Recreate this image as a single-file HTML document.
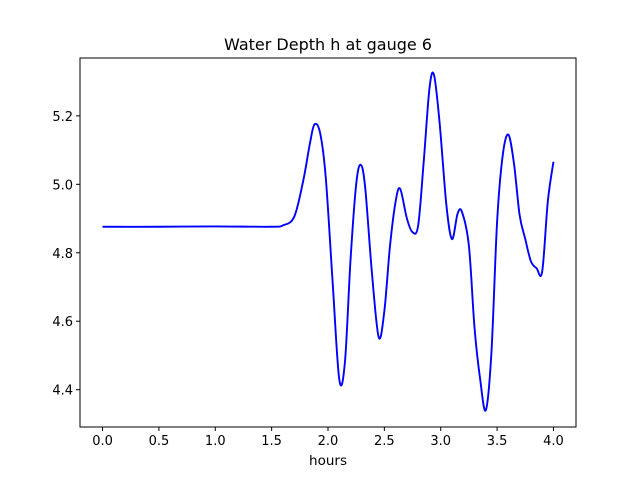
<!DOCTYPE html>
<html><head><meta charset="utf-8"><style>
body{margin:0;background:#fff;}
svg text{font-family:"DejaVu Sans","Liberation Sans",sans-serif;}
</style></head><body>
<svg id="chart" width="640" height="480" xmlns="http://www.w3.org/2000/svg">
<rect width="640" height="480" fill="#fff"/>
<text x="328" y="50" font-size="16" text-anchor="middle">Water Depth h at gauge 6</text>
<g id="plot"></g>
<rect x="80" y="58" width="496" height="369" fill="none" stroke="#000" stroke-width="1"/>
<g id="xt"></g><g id="yt"></g>
<text x="328" y="465" font-size="13.5" text-anchor="middle">hours</text>
</svg>
<script>
const hours=[0,0.5,1.0,1.5,1.6,1.7,1.78,1.84,1.88,1.93,1.98,2.04,2.1,2.15,2.2,2.25,2.29,2.33,2.39,2.45,2.5,2.55,2.6,2.64,2.7,2.75,2.8,2.85,2.9,2.94,2.99,3.05,3.1,3.15,3.19,3.25,3.3,3.35,3.4,3.45,3.5,3.55,3.6,3.65,3.7,3.75,3.8,3.85,3.9,3.95,4.0];
const depth=[4.876,4.876,4.877,4.876,4.88,4.905,5.01,5.12,5.175,5.15,5.02,4.72,4.43,4.48,4.78,5.0,5.057,4.99,4.74,4.553,4.63,4.82,4.95,4.987,4.9,4.86,4.88,5.07,5.28,5.32,5.18,4.94,4.84,4.915,4.918,4.82,4.58,4.43,4.34,4.51,4.89,5.085,5.145,5.06,4.91,4.84,4.775,4.755,4.745,4.95,5.066];
const xTicks=[0,0.5,1.0,1.5,2.0,2.5,3.0,3.5,4.0];
const yTicks=[4.4,4.6,4.8,5.0,5.2];
const L=80,R=576,T=58,B=427,xmin=-0.2,xmax=4.2,ymin=4.291,ymax=5.369;
const sx=v=>L+(v-xmin)/(xmax-xmin)*(R-L);
const sy=v=>B-(v-ymin)/(ymax-ymin)*(B-T);
const NS="http://www.w3.org/2000/svg";
const pts=hours.map((h,i)=>[sx(h),sy(depth[i])]);
let d="M"+pts[0][0]+","+pts[0][1];
for(let i=0;i<pts.length-1;i++){
 const p0=pts[Math.max(0,i-1)],p1=pts[i],p2=pts[i+1],p3=pts[Math.min(pts.length-1,i+2)];
 const c1=[p1[0]+(p2[0]-p0[0])/6,p1[1]+(p2[1]-p0[1])/6];
 const c2=[p2[0]-(p3[0]-p1[0])/6,p2[1]-(p3[1]-p1[1])/6];
 d+=" C"+c1+" "+c2+" "+p2;
}
const path=document.createElementNS(NS,"path");


path.setAttribute("d",d);path.setAttribute("fill","none");path.setAttribute("stroke","#0000ff");path.setAttribute("stroke-width","1.9");
document.getElementById("plot").appendChild(path);
const xt=document.getElementById("xt");
xTicks.forEach(v=>{const x=sx(v);
 const l=document.createElementNS(NS,"line");
 
 
 l.setAttribute("x1",x);l.setAttribute("x2",x);l.setAttribute("y1",B);l.setAttribute("y2",B+4);l.setAttribute("stroke","#000");xt.appendChild(l);
 const t=document.createElementNS(NS,"text");
 
 
 t.setAttribute("x",x);t.setAttribute("y",B+18);t.setAttribute("font-size","13");t.setAttribute("text-anchor","middle");t.textContent=v.toFixed(1);xt.appendChild(t);});
const yt=document.getElementById("yt");
yTicks.forEach(v=>{const y=sy(v);
 const l=document.createElementNS(NS,"line");
 
 
 l.setAttribute("x1",L-4);l.setAttribute("x2",L);l.setAttribute("y1",y);l.setAttribute("y2",y);l.setAttribute("stroke","#000");yt.appendChild(l);
 const t=document.createElementNS(NS,"text");
 
 
 t.setAttribute("x",L-7);t.setAttribute("y",y+5);t.setAttribute("font-size","13");t.setAttribute("text-anchor","end");t.textContent=v.toFixed(1);yt.appendChild(t);});
</script>
</body></html>
